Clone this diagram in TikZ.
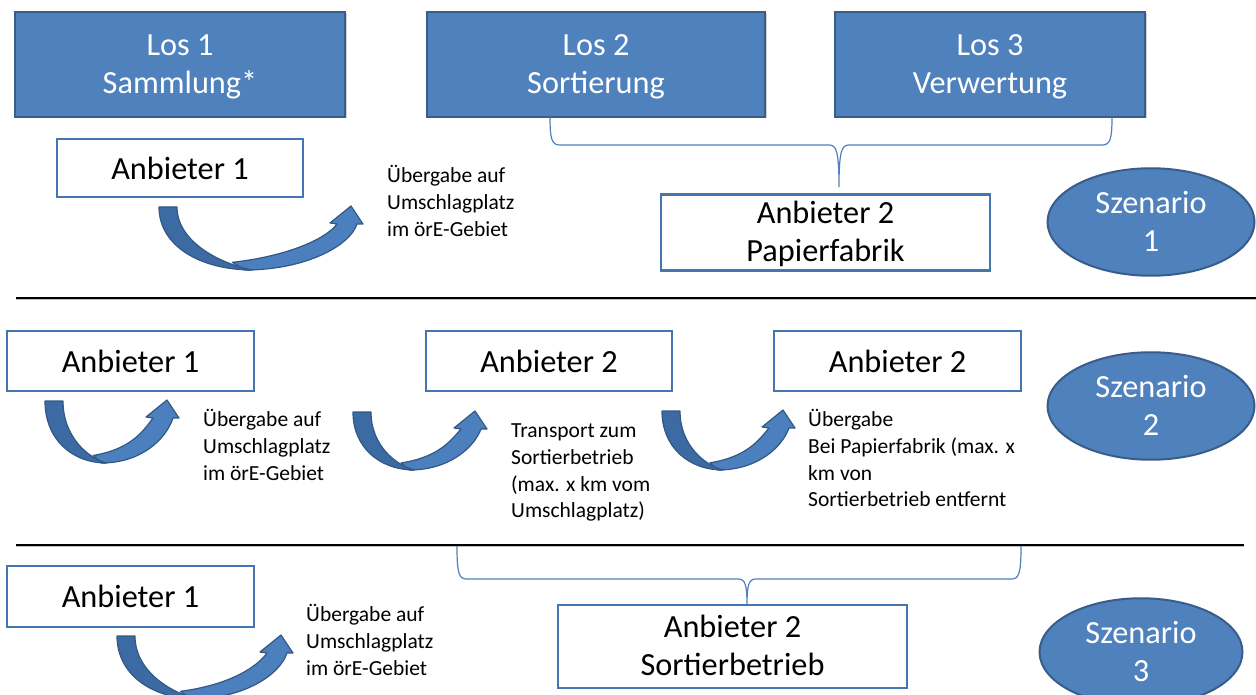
\documentclass[tikz,border=0pt]{standalone}
\usepackage{fontspec}
\setmainfont{Carlito}
\usetikzlibrary{shapes.geometric,shadows}
\definecolor{losfill}{RGB}{79,129,189}
\definecolor{losdraw}{RGB}{56,93,138}
\definecolor{boxdraw}{RGB}{70,118,175}
\definecolor{arrdark}{RGB}{60,106,163}
\definecolor{arrlight}{RGB}{76,127,190}
\definecolor{arrdraw}{RGB}{50,88,134}
\definecolor{bracecol}{RGB}{79,129,189}
\newcommand\bstrut{\rule[-8.9pt]{0pt}{38pt}}
\tikzset{
  big/.style={font=\fontsize{32.3}{38}\selectfont},
  small/.style={font=\fontsize{21.5}{26.6}\selectfont, align=left, inner sep=0pt, anchor=north west, text=black},
  losbox/.style={draw=losdraw, line width=2, fill=losfill, text=white, big, align=center, inner sep=0pt,
    drop shadow={opacity=0.35, shadow xshift=1.5pt, shadow yshift=-1.5pt}},
  offer/.style={draw=boxdraw, line width=2.5, fill=white, text=black, big, align=center, inner sep=0pt},
  szen/.style={ellipse, draw=losdraw, line width=2, fill=losfill, text=white, big, align=center, inner sep=0pt},
  brace/.style={draw=bracecol, line width=1.2},
  sepline/.style={draw=black, line width=1.6},
  arrback/.style={fill=arrdark, draw=arrdraw, line width=1.2, line join=round},
  arrfront/.style={fill=arrlight, draw=arrdraw, line width=1.2, line join=round},
}
\newcommand\curvarrow[4]{%
  \begin{scope}[shift={(#1,#2)}]
    \def\W{#3}\def\H{#4}
    \filldraw[arrfront] ({0.42*\W},\H) .. controls ({0.72*\W},\H) and ({\W-13},{0.62*\H}) .. ({\W-6},18)
      -- (\W,18) -- ({\W-12},0) -- ({\W-33},17) -- ({\W-26},18)
      .. controls ({\W-36},{0.5*\H}) and ({0.64*\W},{0.78*\H}) .. ({0.36*\W},{0.88*\H}) -- cycle;
    \filldraw[arrback] (0,1) .. controls (0,{0.62*\H}) and ({0.2*\W},\H) .. ({0.46*\W},\H)
      .. controls ({0.33*\W},{0.93*\H}) and (18,{0.6*\H}) .. (18,1) -- cycle;
  \end{scope}}
\begin{document}
\begin{tikzpicture}[x=1pt,y=-1pt]
\fill[white] (0,0) rectangle (1256,695);
\useasboundingbox (0,0) rectangle (1256,695);

% Scenario 1
\node[losbox, minimum width=330, minimum height=105] (los1) at (180,64.5) {\bstrut Los 1\\\bstrut Sammlung*};
\node[losbox, minimum width=338, minimum height=105] (los2) at (596,64.5) {\bstrut Los 2\\\bstrut Sortierung};
\node[losbox, minimum width=310, minimum height=105] (los3) at (990,64.5) {\bstrut Los 3\\\bstrut Verwertung};
\node[offer, minimum width=246, minimum height=58] (a1top) at (180,168) {Anbieter 1};
\node[offer, minimum width=329, minimum height=71] (a2pap) at (825.5,232.5) {\bstrut Anbieter 2\\\bstrut Papierfabrik};
\node[szen, minimum width=207, minimum height=90] (sz1) at (1151,222) {\bstrut Szenario\\\bstrut 1};
\node[small] (t1) at (387,165.5) {Übergabe auf\\Umschlagplatz\\im örE-Gebiet};
\curvarrow{159}{206}{204}{64}
\coordinate (bl1) at (550,117);
\coordinate (br1) at (1112,117);
\coordinate (bt1) at (839,187);
\draw[brace] (bl1) .. controls (550,140) and (552,145) .. (560,145) -- (829,145)
  .. controls (836,145) and (839,150) .. (bt1)
  .. controls (839,150) and (842,145) .. (849,145) -- (1102,145)
  .. controls (1110,145) and (1112,140) .. (br1);

\draw[black!25, line width=1] (16,299.6) -- (1256,299.6);
\draw[sepline] (16,298) -- (1256,298);

% Scenario 2
\node[offer, minimum width=247, minimum height=60] (s2a) at (130.5,361) {Anbieter 1};
\node[offer, minimum width=246, minimum height=60] (s2b) at (549,361) {Anbieter 2};
\node[offer, minimum width=247, minimum height=60] (s2c) at (897.5,361) {Anbieter 2};
\node[szen, minimum width=207, minimum height=90] (sz2) at (1151,406) {\bstrut Szenario\\\bstrut 2};
\curvarrow{45}{400}{134}{63}
\curvarrow{353}{411}{134}{59}
\curvarrow{662}{410}{133}{60}
\node[small] (t2) at (203,409.5) {Übergabe auf\\Umschlagplatz\\im örE-Gebiet};
\node[small] (t3) at (511,424) {Transport zum\\Sortierbetrieb\\(max. x km vom\\Umschlagplatz)};
\node[small] (t4) at (808,409.5) {Übergabe\\Bei Papierfabrik (max. x\\km von\\Sortierbetrieb entfernt};

\draw[black!25, line width=1] (16,546.6) -- (1244,546.6);
\draw[sepline] (16,545) -- (1244,545);

% Scenario 3
\node[offer, minimum width=247, minimum height=61] (s3a) at (130.5,596.5) {Anbieter 1};
\node[offer, minimum width=349, minimum height=83] (s3b) at (732.5,646.5) {\bstrut Anbieter 2\\\bstrut Sortierbetrieb};
\node[szen, minimum width=203, minimum height=90] (sz3) at (1141,652) {\bstrut Szenario\\\bstrut 3};
\curvarrow{117}{635}{176}{64}
\node[small] (t5) at (306,604.5) {Übergabe auf\\Umschlagplatz\\im örE-Gebiet};
\coordinate (bl3) at (457,546);
\coordinate (br3) at (1021,546);
\coordinate (bt3) at (747,605);
\draw[brace] (bl3) .. controls (457,574) and (459,579) .. (467,579) -- (738,579)
  .. controls (745,579) and (747,584) .. (bt3)
  .. controls (747,584) and (749,579) .. (756,579) -- (1011,579)
  .. controls (1019,579) and (1021,574) .. (br3);
\end{tikzpicture}
\end{document}
